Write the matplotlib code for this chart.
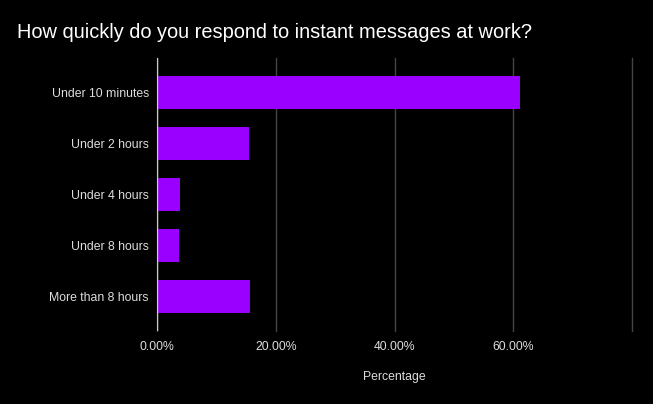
import matplotlib.pyplot as plt
from matplotlib.ticker import FuncFormatter

plt.rcParams['font.family'] = ['Liberation Sans', 'DejaVu Sans']

categories = ["Under 10 minutes", "Under 2 hours", "Under 4 hours", "Under 8 hours", "More than 8 hours"]
percentages = [61.2, 15.4, 3.8, 3.6, 15.6]
xticks = [0, 20, 40, 60, 80]

fig = plt.figure(figsize=(6.53, 4.04), dpi=100, facecolor='black')
ax = fig.add_axes([0.2409, 0.1807, 0.7269, 0.6757])
ax.set_facecolor('black')

y = list(range(len(categories)))
ax.barh(y, percentages, height=0.64, color='#9900ff', zorder=3)

ax.set_ylim(len(categories) - 0.5 + 0.17, -0.5 - 0.17)
ax.set_xlim(0, 80)
ax.set_yticks(y)
ax.set_yticklabels(categories)
ax.set_xticks(xticks)
ax.xaxis.set_major_formatter(FuncFormatter(lambda v, p: "" if v == 80 else "%.2f%%" % v))

ax.grid(axis='x', color='#444444', linewidth=1, zorder=0)
for gl in ax.get_xgridlines():
    gl.set_clip_on(False)
ax.axvline(0, color='#cccccc', linewidth=1, zorder=4)
for s in ax.spines.values():
    s.set_visible(False)

ax.tick_params(axis='both', length=0, colors='#dddddd', labelsize=8.8)
ax.tick_params(axis='y', pad=6)
ax.tick_params(axis='x', pad=7)

ax.set_xlabel("Percentage", color='#dddddd', fontsize=8.8, labelpad=13)

fig.text(17 / 653, 1 - 32 / 404, "How quickly do you respond to instant messages at work?",
         color='white', fontsize=14.4, ha='left', va='center')

fig.savefig("out.png", facecolor='black')
